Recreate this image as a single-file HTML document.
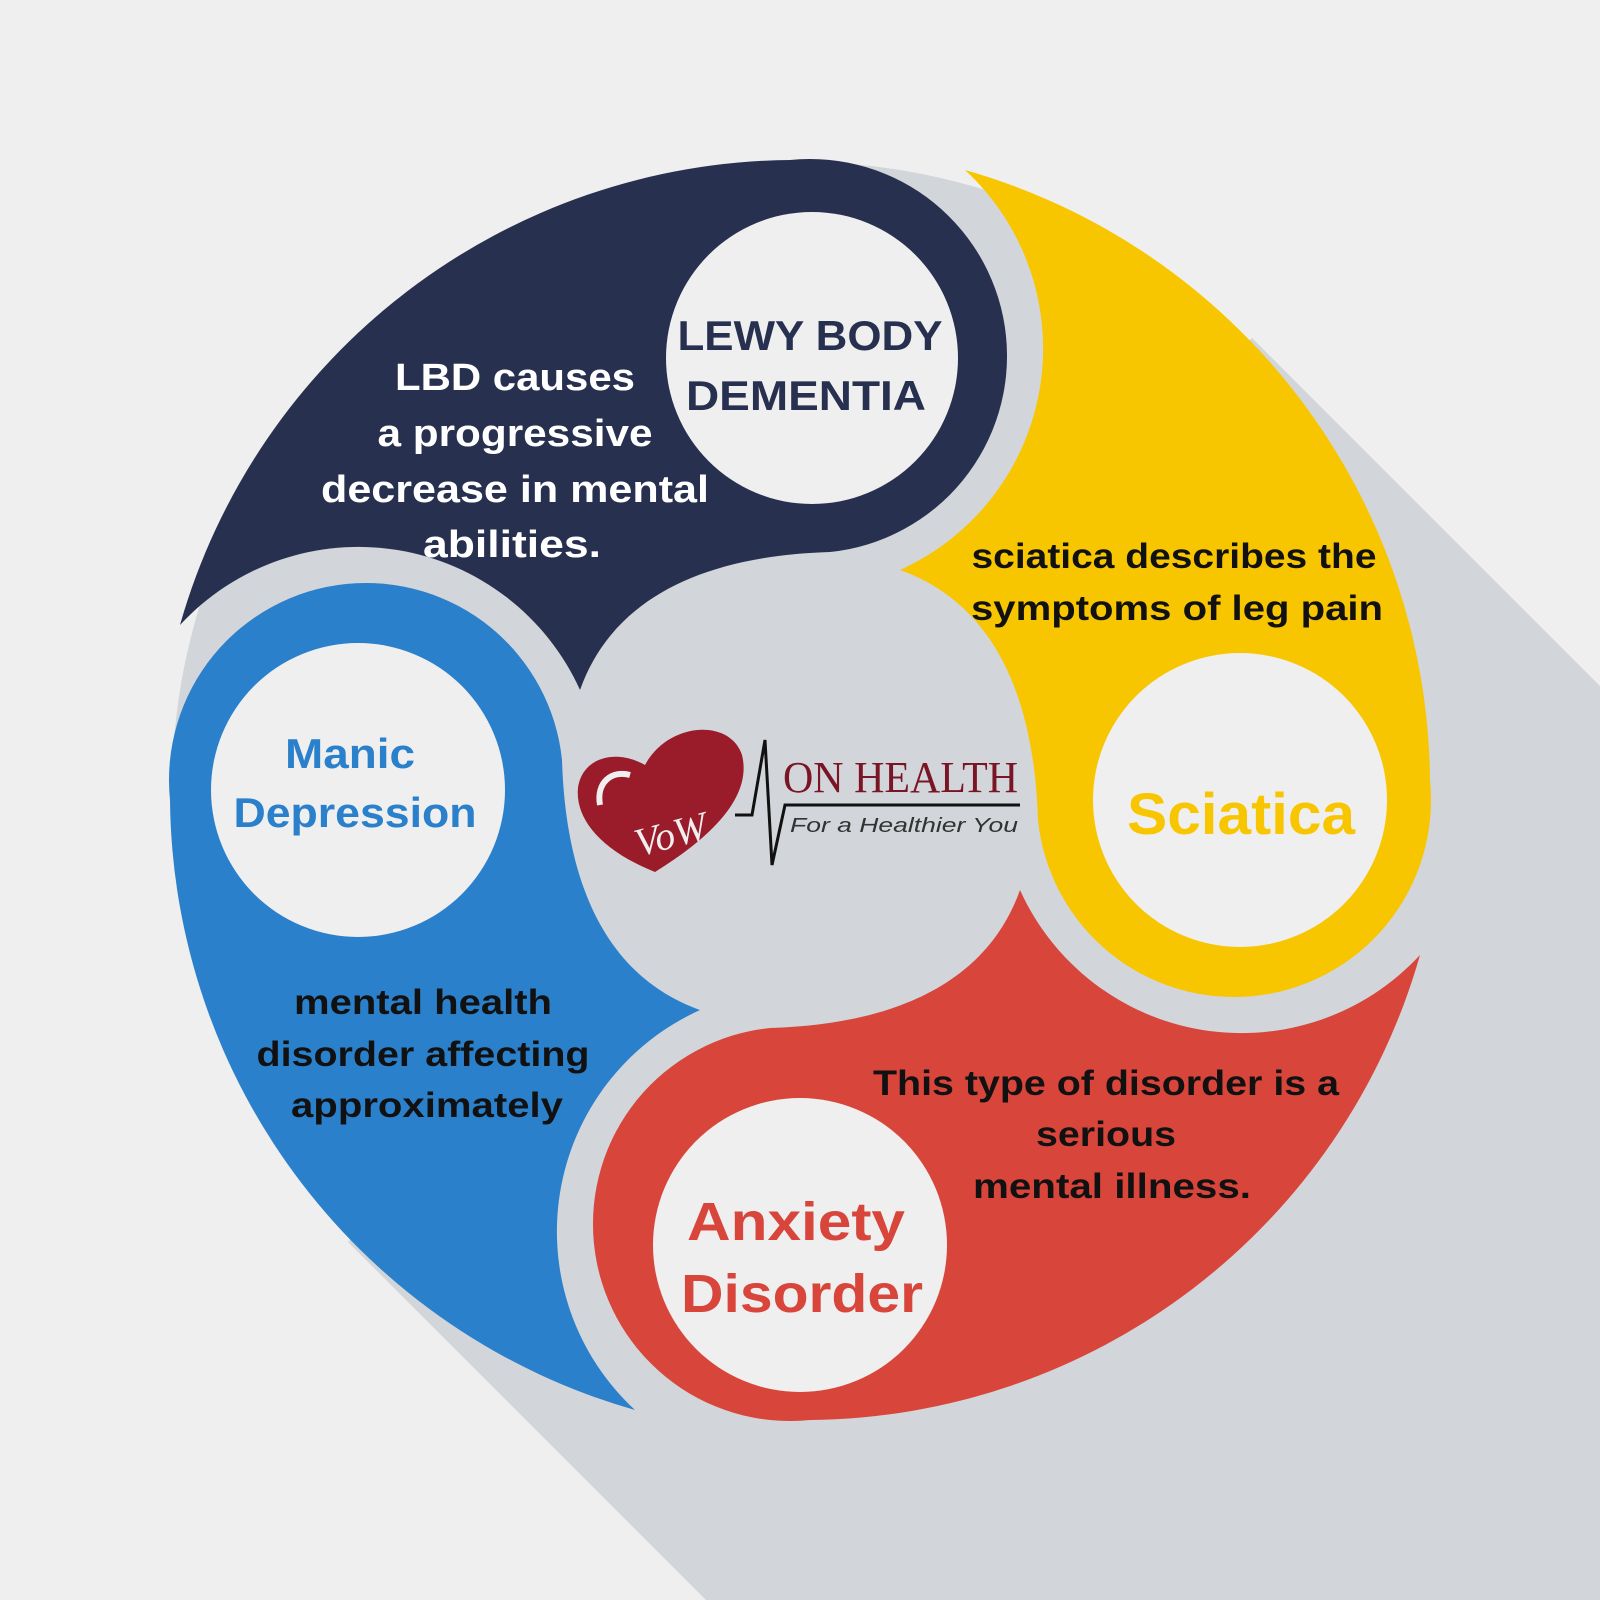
<!DOCTYPE html>
<html><head><meta charset="utf-8"><style>html,body{margin:0;padding:0;background:#efefef}svg{display:block}</style></head>
<body>
<svg width="1600" height="1600" viewBox="0 0 1600 1600" xmlns="http://www.w3.org/2000/svg" font-family="'Liberation Sans', sans-serif" font-weight="bold">
<rect width="1600" height="1600" fill="#efefef"/>
<polygon points="1252,338 1600,686 1600,1600 706,1600 348,1242" fill="#d2d5d9"/>
<circle cx="800" cy="790" r="628" fill="#d2d5d9"/>
<defs>
<path id="blade" d="M180 625 A640 640 0 0 1 790 160 A195 195 0 0 1 830 552 C700 556 612 600 580 690 A243 243 0 0 0 180 625 Z"/>
</defs>
<use href="#blade" fill="#283050"/>
<use href="#blade" fill="#f8c600" transform="rotate(90 800 790)"/>
<use href="#blade" fill="#d8453b" transform="rotate(180 800 790)"/>
<use href="#blade" fill="#2b80cb" transform="rotate(270 800 790)"/>
<circle cx="812" cy="358" r="146" fill="#efefef"/>
<circle cx="1240" cy="800" r="147" fill="#efefef"/>
<circle cx="800" cy="1245" r="147" fill="#efefef"/>
<circle cx="358" cy="790" r="147" fill="#efefef"/>
<g text-anchor="middle">
<text x="810" y="350" font-size="42" fill="#283050" textLength="265" lengthAdjust="spacingAndGlyphs">LEWY BODY</text>
<text x="806" y="410" font-size="42" fill="#283050" textLength="240" lengthAdjust="spacingAndGlyphs">DEMENTIA</text>
<g fill="#ffffff" font-size="38">
<text x="515" y="390" textLength="240" lengthAdjust="spacingAndGlyphs">LBD  causes</text>
<text x="515" y="446" textLength="275" lengthAdjust="spacingAndGlyphs">a progressive</text>
<text x="515" y="502" textLength="388" lengthAdjust="spacingAndGlyphs">decrease in mental</text>
<text x="512" y="557" textLength="178" lengthAdjust="spacingAndGlyphs">abilities.</text>
</g>
<g fill="#111" font-size="35">
<text x="1174" y="568" textLength="405" lengthAdjust="spacingAndGlyphs">sciatica describes the</text>
<text x="1177" y="620" textLength="412" lengthAdjust="spacingAndGlyphs">symptoms of leg pain</text>
<text x="423" y="1014" textLength="258" lengthAdjust="spacingAndGlyphs">mental health</text>
<text x="423" y="1066" textLength="333" lengthAdjust="spacingAndGlyphs">disorder affecting</text>
<text x="427" y="1117" textLength="272" lengthAdjust="spacingAndGlyphs">approximately</text>
<text x="1106" y="1095" textLength="466" lengthAdjust="spacingAndGlyphs">This type of disorder is a</text>
<text x="1106" y="1146" textLength="140" lengthAdjust="spacingAndGlyphs">serious</text>
<text x="1112" y="1198" textLength="278" lengthAdjust="spacingAndGlyphs">mental illness.</text>
</g>
<text x="1241" y="834" font-size="58" fill="#f8c600" textLength="228" lengthAdjust="spacingAndGlyphs">Sciatica</text>
<text x="350" y="768" font-size="42" fill="#2b80cb" textLength="130" lengthAdjust="spacingAndGlyphs">Manic</text>
<text x="355" y="827" font-size="42" fill="#2b80cb" textLength="243" lengthAdjust="spacingAndGlyphs">Depression</text>
<text x="796" y="1240" font-size="54" fill="#d8453b" textLength="218" lengthAdjust="spacingAndGlyphs">Anxiety</text>
<text x="802" y="1312" font-size="54" fill="#d8453b" textLength="242" lengthAdjust="spacingAndGlyphs">Disorder</text>
</g>
<!-- logo -->
<path d="M655 872 C600 850 575 818 578 788 C582 758 615 748 645 765 C668 722 730 718 742 755 C752 795 715 835 655 872 Z" fill="#9a1b2a"/>
<path d="M600 805 C596 782 612 770 630 775" stroke="#efefef" stroke-width="6" fill="none"/>
<text x="630" y="850" font-family="'Liberation Serif', serif" font-style="italic" font-weight="normal" font-size="40" fill="#efefef" transform="rotate(-15 660 820)">VoW</text>
<polyline points="735,815 752,815 765,740 772,865 785,805 1020,805" stroke="#111" stroke-width="3" fill="none"/>
<text x="783" y="792" font-family="'Liberation Serif', serif" font-weight="normal" font-size="44" fill="#7a1525" textLength="235" lengthAdjust="spacingAndGlyphs">ON HEALTH</text>
<text x="790" y="832" font-family="'Liberation Sans', sans-serif" font-style="italic" font-weight="normal" font-size="20" fill="#333" textLength="228" lengthAdjust="spacingAndGlyphs">For a Healthier You</text>
</svg>
</body></html>
